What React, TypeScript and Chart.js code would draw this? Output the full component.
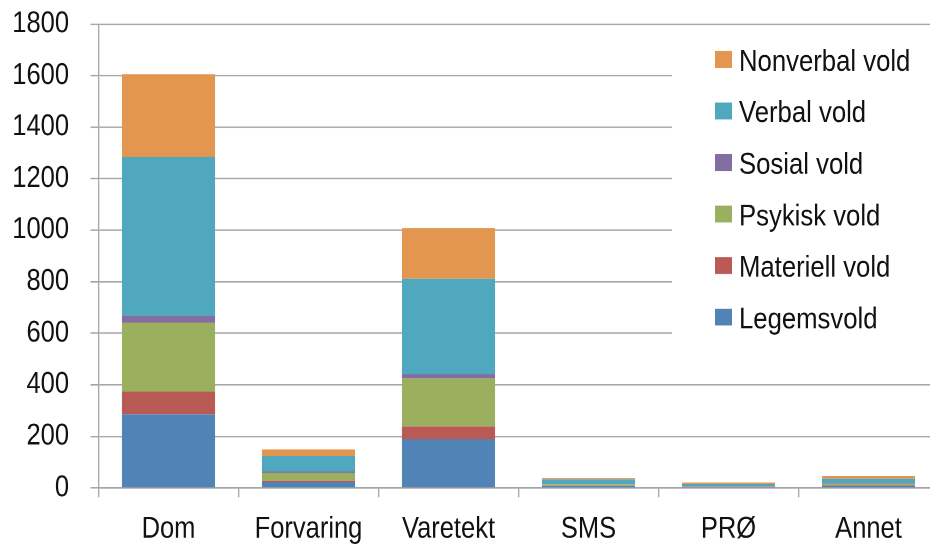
import React, { useEffect, useRef } from "react";
import { Chart, registerables } from "chart.js";

Chart.register(...registerables);

const categories = ["Dom", "Forvaring", "Varetekt", "SMS", "PRØ", "Annet"];
const legemsvold = [286, 24, 189, 8, 4, 9];
const materiellVold = [88, 5, 50, 1, 1, 2];
const psykiskVold = [267, 29, 186, 5, 1, 6];
const sosialVold = [27, 6, 16, 1, 1, 2];
const verbalVold = [616, 60, 371, 19, 8, 17];
const nonverbalVold = [321, 26, 196, 5, 6, 10];
const yTicks = [0, 200, 400, 600, 800, 1000, 1200, 1400, 1600, 1800];

const seriesNames = ["Legemsvold", "Materiell vold", "Psykisk vold", "Sosial vold", "Verbal vold", "Nonverbal vold"];
const seriesValues = [legemsvold, materiellVold, psykiskVold, sosialVold, verbalVold, nonverbalVold];
const seriesColors = ["#5283B6", "#B95A55", "#9BB05E", "#846DA0", "#50A8BF", "#E3964F"];

const S = 1.15; // vertical stretch of the text shapes in the reference
const W = 945;
const H = Math.round(544 / S);
const FONT = '"Liberation Sans", Arial, sans-serif';
const GRID = "#a6a6a6";

const boxLegend = {
  id: "boxLegend",
  afterDraw(chart: any) {
    const ctx = chart.ctx;
    ctx.save();
    ctx.fillStyle = "#ffffff";
    ctx.fillRect(672, 27, 300, 277);
    const ds = chart.data.datasets.slice().reverse();
    ds.forEach((d: any, i: number) => {
      const cy = 51.7 + i * 44.8;
      ctx.fillStyle = d.backgroundColor;
      ctx.fillRect(715, cy - 7.3, 17, 14.6);
      ctx.fillStyle = "#111111";
      ctx.font = `25.7px ${FONT}`;
      ctx.textBaseline = "middle";
      ctx.textAlign = "left";
      ctx.fillText(d.label, 739, cy + 2.6);
    });
    ctx.restore();
  },
};

export default function App() {
  const ref = useRef<HTMLCanvasElement>(null);
  useEffect(() => {
    if (!ref.current) return;
    const chart = new Chart(ref.current, {
      type: "bar",
      data: {
        labels: categories,
        datasets: seriesNames.map((name, i) => ({
          label: name,
          data: seriesValues[i],
          backgroundColor: seriesColors[i],
          borderWidth: 0,
          barPercentage: 0.665,
          categoryPercentage: 1,
        })),
      },
      options: {
        responsive: false,
        animation: false,
        devicePixelRatio: 2,
        layout: { padding: { top: 20.9, right: 6.5, left: 0, bottom: 0 } },
        plugins: { legend: { display: false }, tooltip: { enabled: false } },
        scales: {
          x: {
            stacked: true,
            grid: {
              display: true,
              drawOnChartArea: false,
              drawTicks: true,
              tickLength: 8,
              offset: true,
              color: GRID,
              lineWidth: 1.3,
            },
            border: { display: true, color: GRID, width: 1.3 },
            ticks: {
              color: "#111111",
              font: { family: FONT, size: 25.5 },
              padding: 13,
              maxRotation: 0,
              autoSkip: false,
            },
            afterFit(scale: any) {
              scale.height = H - 424.35;
            },
          },
          y: {
            stacked: true,
            min: 0,
            max: 1800,
            afterBuildTicks(scale: any) {
              scale.ticks = yTicks.map((v) => ({ value: v }));
            },
            grid: {
              color: GRID,
              lineWidth: 1.3,
              drawTicks: true,
              tickLength: 8,
            },
            border: { display: true, color: GRID, width: 1.3 },
            ticks: {
              color: "#111111",
              font: { family: FONT, size: 25.5 },
              padding: 21.5,
              callback: (v: any) => String(v),
            },
            afterFit(scale: any) {
              scale.width = 98.5;
              scale.paddingTop = 0;
              scale.paddingBottom = 0;
            },
          },
        },
      },
      plugins: [boxLegend],
    });
    return () => chart.destroy();
  }, []);

  return (
    <div style={{ position: "fixed", left: 0, top: 0, width: 930, height: 544, overflow: "hidden", background: "#fff" }}>
      <div style={{ width: W, height: H, transform: `scaleY(${S})`, transformOrigin: "0 0" }}>
        <canvas ref={ref} width={W} height={H} style={{ display: "block" }} />
      </div>
    </div>
  );
}
